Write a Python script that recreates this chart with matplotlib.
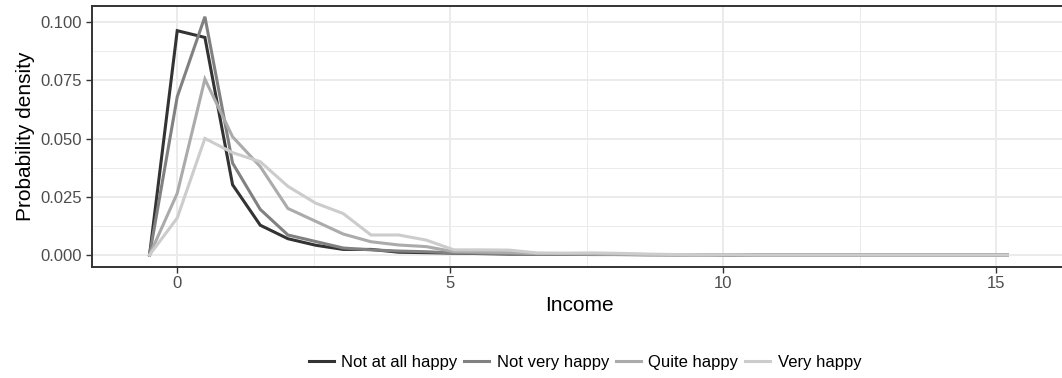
import matplotlib
matplotlib.use("Agg")
import matplotlib.pyplot as plt
import numpy as np

plt.rcParams['font.family'] = ['Liberation Sans', 'DejaVu Sans']

# bin centres: -w, 0, w, ... 30w
binwidth = 0.5067
k = np.arange(-1, 31)
income = k * binwidth

labels = ["Not at all happy", "Not very happy", "Quite happy", "Very happy"]
colors = ["#333333", "#818181", "#ABABAB", "#CCCCCC"]

not_at_all = [0, 0.0964, 0.0935, 0.0302, 0.0128, 0.0070, 0.0042, 0.0024, 0.0024, 0.0012,
              0.0010, 0.0008, 0.0006, 0.0004, 0.0004, 0.0003, 0.0002, 0.0002, 0.0001, 0.0001,
              0.0001, 0, 0, 0, 0, 0, 0, 0, 0, 0, 0, 0]
not_very = [0, 0.0680, 0.1024, 0.0395, 0.0196, 0.0086, 0.0058, 0.0030, 0.0022, 0.0017,
            0.0014, 0.0009, 0.0007, 0.0006, 0.0005, 0.0004, 0.0003, 0.0002, 0.0002, 0.0001,
            0.0001, 0.0001, 0, 0, 0, 0, 0, 0, 0, 0, 0, 0]
quite = [0, 0.0265, 0.0756, 0.0508, 0.0380, 0.0200, 0.0145, 0.0090, 0.0057, 0.0043,
         0.0036, 0.0014, 0.0012, 0.0010, 0.0006, 0.0005, 0.0004, 0.0003, 0.0002, 0.0002,
         0.0001, 0.0001, 0, 0, 0, 0, 0, 0, 0, 0, 0, 0]
very = [0, 0.0159, 0.0501, 0.0440, 0.0401, 0.0295, 0.0223, 0.0178, 0.0086, 0.0086,
        0.0064, 0.0022, 0.0022, 0.0021, 0.0009, 0.0008, 0.0009, 0.0007, 0.0004, 0.0002,
        0.0001, 0.0001, 0, 0, 0, 0, 0, 0, 0, 0, 0, 0]
series = [not_at_all, not_very, quite, very]

xticks = [0, 5, 10, 15]
yticks = [0.000, 0.025, 0.050, 0.075, 0.100]
ytick_labels = ["0.000", "0.025", "0.050", "0.075", "0.100"]

W, H = 1062, 378
fig = plt.figure(figsize=(W / 100, H / 100), dpi=100)
left, right, top, bottom = 91.7, 1068, 5.7, 266.7
ax = fig.add_axes([left / W, 1 - bottom / H, (right - left) / W, (bottom - top) / H])

for vals, lab, col in zip(series, labels, colors):
    ax.plot(income, vals, color=col, lw=2.2, label=lab, solid_joinstyle='miter', zorder=3)

ax.set_xlim(-1.566, 16.31)
ax.set_ylim(-0.00503, 0.10714)
ax.set_xticks(xticks)
ax.set_xticks([2.5, 7.5, 12.5], minor=True)
ax.set_yticks(yticks)
ax.set_yticklabels(ytick_labels)
ax.set_yticks([0.0125, 0.0375, 0.0625, 0.0875], minor=True)
ax.grid(which='major', color='#EBEBEB', lw=1.4, zorder=0)
ax.grid(which='minor', color='#EBEBEB', lw=0.7, zorder=0)
ax.tick_params(which='minor', length=0)
ax.tick_params(which='major', length=4, width=1.0, color='#333333', labelcolor='#4D4D4D',
               labelsize=12, pad=3)
for s in ax.spines.values():
    s.set_color('#333333')
    s.set_linewidth(1.4)
ax.set_axisbelow(True)

ax.set_xlabel("Income", fontsize=15, color='black', labelpad=3)
ax.set_ylabel("Probability density", fontsize=15, color='black', labelpad=4)

fig.legend(loc='center', bbox_to_anchor=(585 / W, 1 - 362 / H), ncol=4, frameon=False,
           fontsize=12, handlelength=1.5, handletextpad=0.45, columnspacing=0.4)

fig.savefig("out.png", dpi=100)
